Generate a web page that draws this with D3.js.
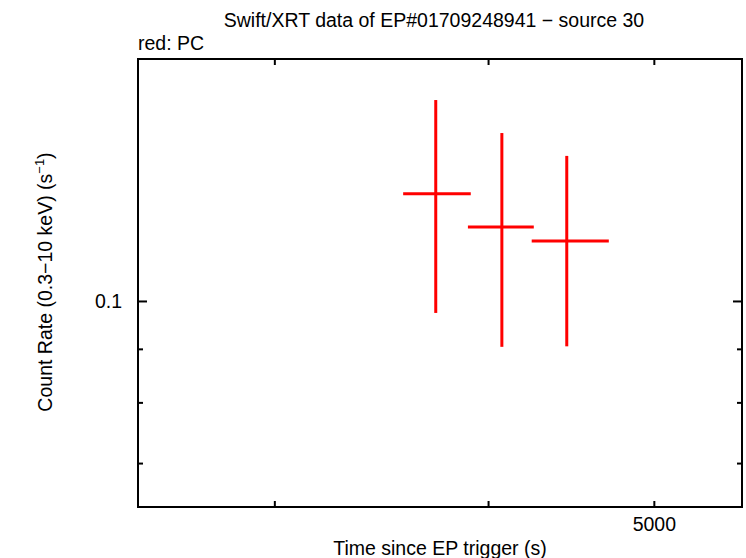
<!DOCTYPE html>
<html>
<head>
<meta charset="utf-8">
<script src="https://cdn.jsdelivr.net/npm/d3@7"></script>
<style>
  body { margin: 0; background: #fff; }
  text { font-family: "Liberation Sans", Arial, sans-serif; fill: #000; }
</style>
</head>
<body>
<div id="viz"></div>
<script>
// light curve points (PC mode)
const times    = [3728, 4075, 4447];
const timeLo   = [3568, 3893, 4242];
const timeHi   = [3908, 4254, 4706];
const rates    = [0.1266, 0.1177, 0.1141];
const rateLo   = [0.0974, 0.0904, 0.0905];
const rateHi   = [0.1556, 0.1447, 0.1376];

const xTicks = [3000, 4000, 5000];
const xLabels = ["", "", "5000"];
const yMajor = [0.1];
const yMinor = [0.09, 0.08, 0.07];

const width = 746, height = 558;
const margin = {top: 59, right: 4, bottom: 51, left: 138};
const fs = 19.5;

const svg = d3.select('#viz')
  .append('svg')
  .attr('width', width)
  .attr('height', height);

const x = d3.scaleLog()
  .domain([2497, 5630])
  .range([margin.left, width - margin.right]);
const y = d3.scaleLog()
  .domain([0.06355, 0.1703])
  .range([height - margin.bottom, margin.top]);

// red error bars
const pts = times.map((t, i) => ({t, tl: timeLo[i], th: timeHi[i], r: rates[i], rl: rateLo[i], rh: rateHi[i]}));
const g = svg.append('g').attr('stroke', '#ff0000').attr('stroke-width', 3);
g.selectAll('line.h')
  .data(pts)
  .join('line')
  .attr('class', 'h')
  .attr('x1', d => x(d.tl)).attr('x2', d => x(d.th))
  .attr('y1', d => y(d.r)).attr('y2', d => y(d.r));
g.selectAll('line.v')
  .data(pts)
  .join('line')
  .attr('class', 'v')
  .attr('x1', d => x(d.t)).attr('x2', d => x(d.t))
  .attr('y1', d => y(d.rl)).attr('y2', d => y(d.rh));

// axes, gnuplot style: ticks drawn inward on all four sides
const x0 = margin.left, x1 = width - margin.right;
const y0 = height - margin.bottom, y1 = margin.top;

svg.append('g')
  .attr('transform', `translate(0,${y0})`)
  .call(d3.axisBottom(x).tickValues(xTicks).tickSizeInner(-6).tickSizeOuter(0)
    .tickFormat((d, i) => xLabels[i]).tickPadding(10))
  .call(a => a.select('.domain').remove())
  .call(a => a.selectAll('text').attr('font-size', fs).attr('font-family', 'Liberation Sans, Arial, sans-serif'));
svg.append('g')
  .attr('transform', `translate(0,${y1})`)
  .call(d3.axisTop(x).tickValues(xTicks).tickSizeInner(-6).tickSizeOuter(0).tickFormat(''))
  .call(a => a.select('.domain').remove());

svg.append('g')
  .attr('transform', `translate(${x0},0)`)
  .call(d3.axisLeft(y).tickValues(yMajor).tickSizeInner(-9).tickSizeOuter(0)
    .tickFormat(d3.format('.1f')).tickPadding(16))
  .call(a => a.select('.domain').remove())
  .call(a => a.selectAll('text').attr('font-size', fs).attr('font-family', 'Liberation Sans, Arial, sans-serif'));
svg.append('g')
  .attr('transform', `translate(${x0},0)`)
  .call(d3.axisLeft(y).tickValues(yMinor).tickSizeInner(-5).tickSizeOuter(0).tickFormat(''))
  .call(a => a.select('.domain').remove());
svg.append('g')
  .attr('transform', `translate(${x1},0)`)
  .call(d3.axisRight(y).tickValues(yMajor).tickSizeInner(-9).tickSizeOuter(0).tickFormat(''))
  .call(a => a.select('.domain').remove());
svg.append('g')
  .attr('transform', `translate(${x1},0)`)
  .call(d3.axisRight(y).tickValues(yMinor).tickSizeInner(-5).tickSizeOuter(0).tickFormat(''))
  .call(a => a.select('.domain').remove());

svg.selectAll('.tick line').attr('stroke', '#000').attr('stroke-width', 2);

// frame
svg.append('rect')
  .attr('x', x0).attr('y', y1)
  .attr('width', x1 - x0).attr('height', y0 - y1)
  .attr('fill', 'none').attr('stroke', '#000').attr('stroke-width', 2);

// texts
svg.append('text')
  .attr('x', 434).attr('y', 27)
  .attr('text-anchor', 'middle').attr('font-size', fs)
  .text('Swift/XRT data of EP#01709248941 \u2212 source 30');
svg.append('text')
  .attr('x', 138).attr('y', 50)
  .attr('font-size', fs)
  .text('red: PC');
svg.append('text')
  .attr('x', 440).attr('y', 555)
  .attr('text-anchor', 'middle').attr('font-size', fs)
  .text('Time since EP trigger (s)');

const yl = svg.append('text')
  .attr('transform', 'translate(52,282) rotate(-90)')
  .attr('text-anchor', 'middle').attr('font-size', fs);
yl.append('tspan').text('Count Rate (0.3\u221210 keV) (s');
yl.append('tspan').attr('font-size', 13).attr('dy', -8).text('\u22121');
yl.append('tspan').attr('dy', 8).text(')');
</script>
</body>
</html>
